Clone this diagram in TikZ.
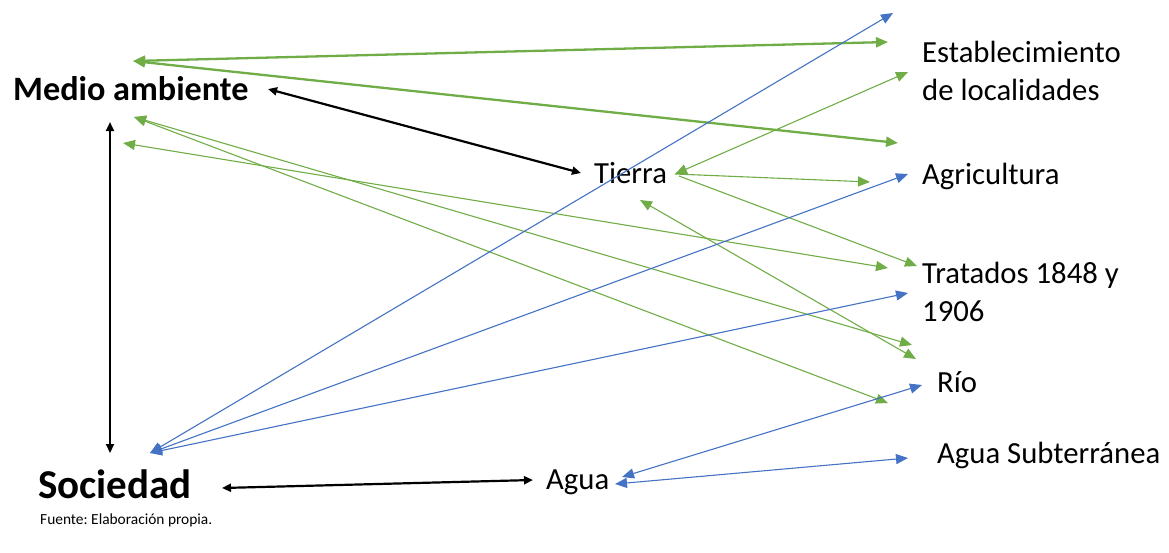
\documentclass[tikz,border=0pt]{standalone}
\usepackage{fontspec}
\setmainfont{Carlito}
\usetikzlibrary{arrows.meta}
\definecolor{ggreen}{RGB}{112,173,71}
\definecolor{gblue}{RGB}{68,114,196}
\frenchspacing
\begin{document}
\begin{tikzpicture}[x=1pt,y=-1pt,
  lbl/.style={anchor=base west,inner sep=0pt,font=\fontsize{30.7}{37}\selectfont},
  lbltwo/.style={anchor=base west,inner sep=0pt,align=left,font=\fontsize{30.7}{37.5}\selectfont},
  big/.style={anchor=base west,inner sep=0pt,font=\bfseries\fontsize{34.2}{40}\selectfont},
  bigger/.style={anchor=base west,inner sep=0pt,font=\bfseries\fontsize{41}{48}\selectfont},
  blk/.style={draw=black,line width=2.2pt,{Triangle[length=9pt,width=8pt]}-{Triangle[length=9pt,width=8pt]}},
  gthick/.style={draw=ggreen,line width=2.3pt,{Triangle[length=12pt,width=10pt]}-{Triangle[length=12pt,width=10pt]}},
  gthin/.style={draw=ggreen,line width=1.1pt,{Triangle[length=12pt,width=10pt]}-{Triangle[length=12pt,width=10pt]}},
  gthinend/.style={draw=ggreen,line width=1.1pt,-{Triangle[length=12pt,width=10pt]}},
  bthin/.style={draw=gblue,line width=1.1pt,{Triangle[length=12pt,width=10pt]}-{Triangle[length=12pt,width=10pt]}}
]
\useasboundingbox (0,0) rectangle (1169,552);
% text nodes
\node[big] (ma) at (13,100) {Medio ambiente};
\node[bigger] (soc) at (38,498) {Sociedad};
\node[lbl] (tierra) at (594,183) {Tierra};
\node[lbl] (agua) at (546,489) {Agua};
\node[lbltwo] (estab) at (922,100) {Establecimiento\\de localidades};
\node[lbl] (agri) at (922,184) {Agricultura};
\node[lbltwo] (trat) at (922,321) {Tratados 1848 y\\1906};
\node[lbl] (rio) at (937,392) {Río};
\node[lbl] (sub) at (937,463) {Agua Subterránea};
\node[anchor=base west,inner sep=0pt,font=\fontsize{15.4}{18}\selectfont] (fuente) at (40,524) {Fuente: Elaboración propia.};
% connector end points
\coordinate (maR) at (268,89);
\coordinate (tiL) at (581,173);
\coordinate (maB) at (110,122);
\coordinate (soT) at (110,453);
\coordinate (soR) at (222,488);
\coordinate (agL) at (533,480);
\coordinate (maG1) at (133,61);
\coordinate (eTop) at (888,42);
\coordinate (aTop) at (898,143);
\coordinate (tiR) at (675,174);
\coordinate (tiR2) at (679,176);
\coordinate (eLow) at (908,72);
\coordinate (agrL) at (870,182);
\coordinate (trT) at (917,266);
\coordinate (tiB) at (640,200);
\coordinate (rioT2) at (916,359);
\coordinate (maG3) at (123,143);
\coordinate (trL) at (888,268);
\coordinate (maG2) at (134,117);
\coordinate (rioT1) at (912,345);
\coordinate (rioL) at (888,403);
\coordinate (soB) at (150,453);
\coordinate (top) at (893,13);
\coordinate (agrB) at (908,174);
\coordinate (trB) at (908,293);
\coordinate (agR1) at (622,477);
\coordinate (rioB) at (922,385);
\coordinate (agR2) at (615,484);
\coordinate (subL) at (908,458);
% black connectors
\draw[blk] (maR) -- (tiL);
\draw[blk] (maB) -- (soT);
\draw[blk] (soR) -- (agL);
% green thick
\draw[gthick] (maG1) -- (eTop);
\draw[gthick] (maG1) -- (aTop);
% green thin
\draw[gthin] (maG3) -- (trL);
\draw[gthin] (maG2) -- (rioT1);
\draw[gthin] (maG2) -- (rioL);
\draw[gthin] (tiR) -- (eLow);
\draw[gthinend] (tiR) -- (agrL);
\draw[gthinend] (tiR2) -- (trT);
\draw[gthin] (tiB) -- (rioT2);
% blue
\draw[bthin] (soB) -- (top);
\draw[bthin] (soB) -- (agrB);
\draw[bthin] (soB) -- (trB);
\draw[bthin] (agR1) -- (rioB);
\draw[bthin] (agR2) -- (subL);
\end{tikzpicture}
\end{document}
